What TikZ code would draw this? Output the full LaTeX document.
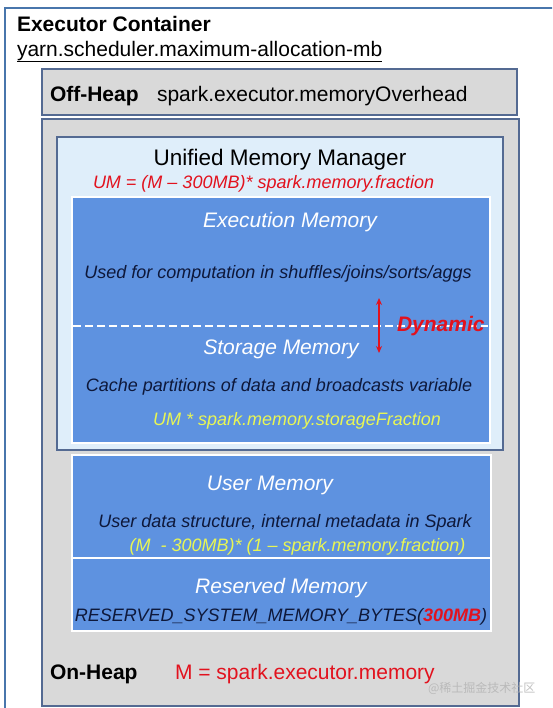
\documentclass[tikz,border=0pt]{standalone}
\usepackage{fontspec}
\setmainfont{Liberation Sans}
\newfontfamily\cjkfont{Noto Sans CJK SC}
\usetikzlibrary{arrows.meta}
\definecolor{contblue}{RGB}{72,118,172}
\definecolor{slate}{RGB}{84,106,146}
\definecolor{grayfill}{RGB}{217,217,217}
\definecolor{lightfill}{RGB}{223,238,250}
\definecolor{bluefill}{RGB}{94,146,224}
\definecolor{navytxt}{RGB}{14,24,58}
\definecolor{yellowtxt}{RGB}{232,246,84}
\definecolor{redtxt}{RGB}{226,18,30}
\tikzset{
  txt/.style={anchor=base west, inner sep=0pt, outer sep=0pt},
  title/.style={txt, font=\fontsize{21}{24}\selectfont},
  body/.style={txt, font=\fontsize{18}{21}\selectfont\itshape},
  memname/.style={txt, font=\fontsize{21}{24}\selectfont\itshape, text=white},
  heapbox/.style={draw=slate, line width=1.6pt, fill=grayfill},
  bluebox/.style={draw=white, line width=1.6pt, fill=bluefill},
}
\begin{document}
\begin{tikzpicture}[x=1pt,y=-1pt]
\useasboundingbox (0,0) rectangle (552,708);
\fill[white] (0,0) rectangle (552,708);
\begin{scope}
\clip (0,0) rectangle (552,708);
% outer container
\draw[contblue, line width=1.8pt] (5,8) rectangle (570,720);
% off-heap
\path[heapbox] (42,69) rectangle (517,115);
% on-heap
\path[heapbox] (42,119) rectangle (519,706);
% unified memory manager
\path[draw=slate, line width=1.6pt, fill=lightfill] (57,137) rectangle (503,450);
% execution / storage
\path[bluebox] (72,197) rectangle (490,443);
% user / reserved
\path[bluebox] (72,455) rectangle (491,631);
\draw[white, line width=1.6pt] (72,558) -- (491,558);
\end{scope}

% dashed divider
\coordinate (dashL) at (73,326);
\coordinate (dashR) at (488,326);
\draw[white, line width=1.4pt, dash pattern=on 8pt off 4pt] (dashL) -- (dashR);

% texts
\node[title, font=\fontsize{21}{24}\selectfont\bfseries] (exec) at (17,32) {Executor Container};
\node[title] (yarn) at (17,57) {yarn.scheduler.maximum-allocation-mb};
\draw[black, line width=1.1pt] ([yshift=-4.5pt]yarn.base west) -- ([yshift=-4.5pt]yarn.base east);

\node[title, font=\fontsize{21}{24}\selectfont\bfseries] (offh) at (50,102) {Off-Heap};
\node[title] (offv) at (157,102) {spark.executor.memoryOverhead};

\node[txt, font=\fontsize{22.5}{26}\selectfont, anchor=base] (umm) at (280,166) {Unified Memory Manager};
\node[body, text=redtxt] (umf) at (93,189) {UM = (M – 300MB)* spark.memory.fraction};

\node[memname, anchor=base] (execm) at (290,228) {Execution Memory};
\node[body, text=navytxt, anchor=base] (execd) at (278,278) {Used for computation in shuffles/joins/sorts/aggs};

\node[memname, anchor=base] (stor) at (281,354) {Storage Memory};
\node[body, text=navytxt, anchor=base] (stord) at (279,391) {Cache partitions of data and broadcasts variable};
\node[body, text=yellowtxt, anchor=base] (storf) at (297,425) {UM * spark.memory.storageFraction};

\node[txt, font=\fontsize{21}{24}\selectfont\bfseries\itshape, text=redtxt] (dyn) at (397,331) {Dynamic};
\coordinate (arrT) at (379,298);
\coordinate (arrB) at (379,353);
\draw[redtxt, line width=1.5pt, {Stealth[length=7pt,width=6pt]}-{Stealth[length=7pt,width=6pt]}] (arrT) -- (arrB);

\node[memname, anchor=base] (user) at (270,490) {User Memory};
\node[body, text=navytxt, anchor=base] (userd) at (285,527) {User data structure, internal metadata in Spark};
\node[body, text=yellowtxt, anchor=base] (userf) at (297.5,551) {(M\ \ - 300MB)* (1 – spark.memory.fraction)};

\node[memname, anchor=base] (res) at (281,593) {Reserved Memory};
\node[body, text=navytxt, anchor=base] (resd) at (281,621) {RESERVED\_SYSTEM\_MEMORY\_BYTES(\textcolor{redtxt}{\bfseries 300MB})};

\node[title, font=\fontsize{21}{24}\selectfont\bfseries] (onh) at (50,679) {On-Heap};
\node[title, text=redtxt] (onv) at (175,679) {M = spark.executor.memory};

\node[txt, font=\cjkfont\fontsize{12}{14}\selectfont, text=gray!60, opacity=0.8] (wm) at (428,692) {@稀土掘金技术社区};
\end{tikzpicture}
\end{document}
